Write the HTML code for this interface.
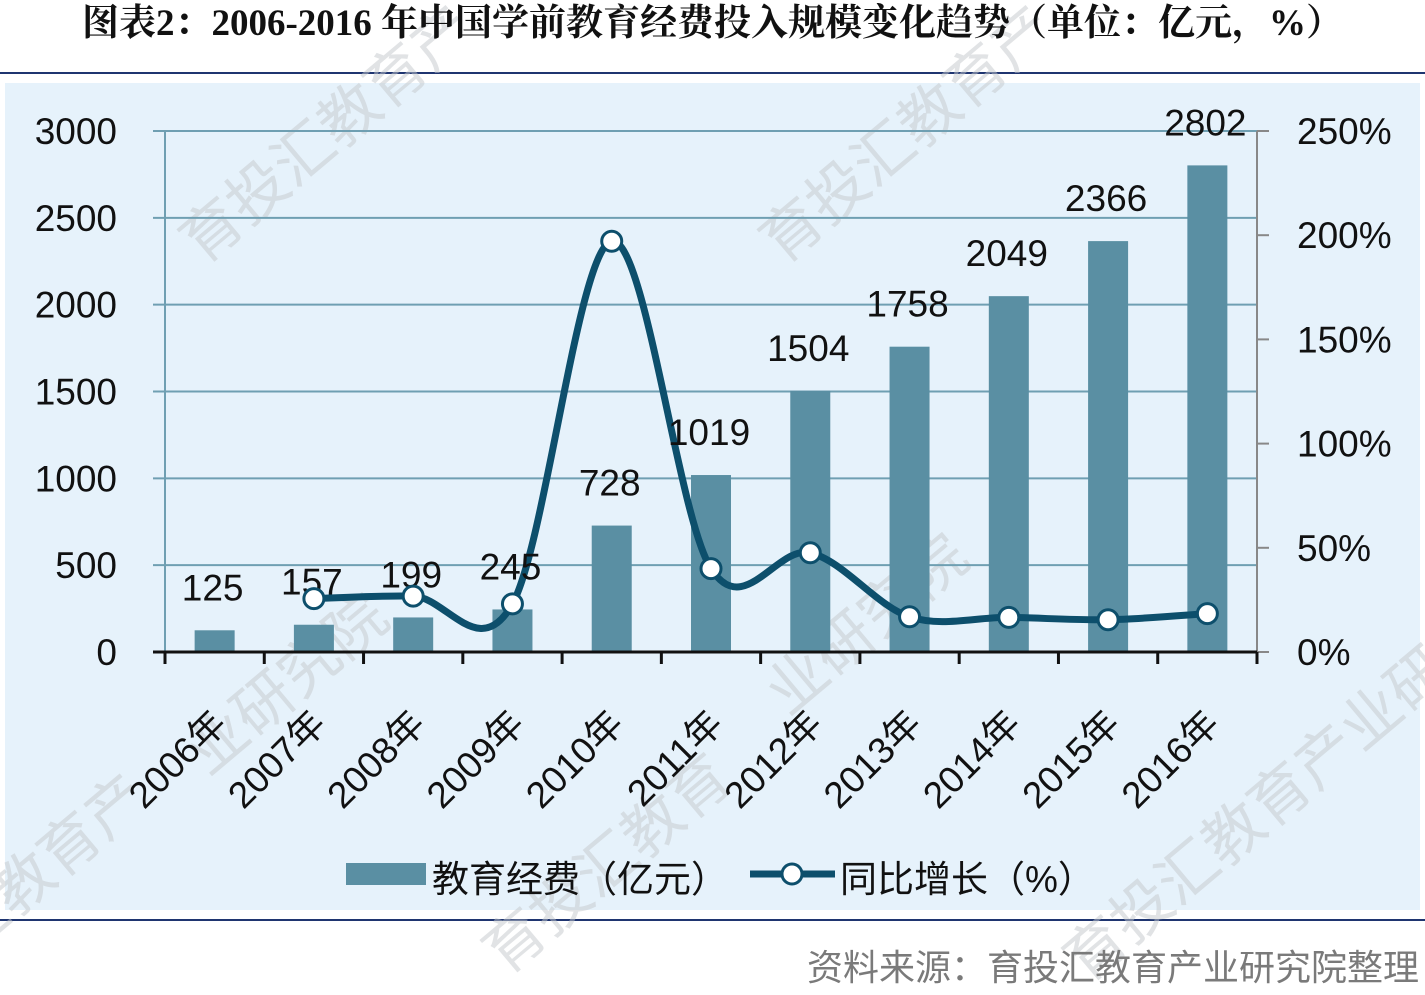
<!DOCTYPE html>
<html><head><meta charset="utf-8">
<style>
html,body{margin:0;width:1425px;height:995px;background:#fff;overflow:hidden;position:relative;font-family:"Liberation Sans","Noto Sans CJK SC",sans-serif;}
#title{position:absolute;left:0;width:1425px;top:2px;line-height:44px;text-align:center;font-family:"Liberation Serif","Noto Serif CJK SC",serif;font-weight:bold;font-size:37px;color:#111;}
#src{position:absolute;right:6px;top:946px;line-height:44px;font-size:36px;color:#7a7a7a}
svg{position:absolute;left:0;top:0}
</style></head><body>
<svg id="chart" width="1425" height="995"></svg>
<div id="title">图表2：2006-2016 年中国学前教育经费投入规模变化趋势（单位：亿元，%）</div>
<div id="src">资料来源：育投汇教育产业研究院整理</div>
<script>
const categories=["2006年","2007年","2008年","2009年","2010年","2011年","2012年","2013年","2014年","2015年","2016年"];
const spending=[125,157,199,245,728,1019,1504,1758,2049,2366,2802];
const growth=[null,25.6,26.8,23.1,197.1,40.0,47.6,16.9,16.6,15.5,18.4];
const leftTicks=[0,500,1000,1500,2000,2500,3000];
const rightTicks=[0,50,100,150,200,250];

const NS="http://www.w3.org/2000/svg";
const svg=document.getElementById('chart');
function mk(t,a,p){const e=document.createElementNS(NS,t);for(const k in a)e.setAttribute(k,a[k]);(p||svg).appendChild(e);return e;}
const X0=165,X1=1257,Y0=652,Y1=131;
const band=(X1-X0)/categories.length;
const xc=i=>X0+band*(i+0.5);
const yL=v=>Y0-(v/3000)*(Y0-Y1);
const yR=v=>Y0-(v/250)*(Y0-Y1);

const hr=mk('line',{x1:0,y1:73,x2:1425,y2:73,stroke:'#1f3570','stroke-width':2});

const bg=mk('rect',{x:5,y:83,width:1415,height:827,fill:'#e6f2fb'});

const br=mk('line',{x1:0,y1:920,x2:1425,y2:920,stroke:'#1f3570','stroke-width':2});


[[340,150,'育投汇教育产'],[920,150,'育投汇教育产'],[300,700,'业研究院'],[880,640,'业研究院'],[60,880,'汇教育产'],[620,880,'育投汇教育'],[1270,830,'育投汇教育产业研']].forEach(p=>{
  const w=mk('text',{x:p[0],y:p[1],transform:`rotate(-40 ${p[0]} ${p[1]})`,'text-anchor':'middle','font-size':60,fill:'#c4c8cb','fill-opacity':0.5});
  w.textContent=p[2];
  
});

leftTicks.forEach(v=>{
  if(v>0){const g=mk('line',{x1:X0-12,y1:yL(v),x2:X1,y2:yL(v),stroke:'#6f9fb2','stroke-width':2});
  }
  const t=mk('text',{x:117,y:yL(v)+13,'text-anchor':'end','font-size':37,fill:'#111'});
  t.textContent=v;
});
const la=mk('line',{x1:X0,y1:Y1,x2:X0,y2:Y0,stroke:'#6f9fb2','stroke-width':2});

const ra=mk('line',{x1:X1,y1:Y1,x2:X1,y2:Y0+8,stroke:'#888','stroke-width':2});

rightTicks.forEach(v=>{
  const tk=mk('line',{x1:X1,y1:yR(v),x2:X1+12,y2:yR(v),stroke:'#888','stroke-width':2});
  
  const t=mk('text',{x:1297,y:yR(v)+13,'font-size':37,fill:'#111'});
  t.textContent=v+'%';
});

spending.forEach((v,i)=>{
  const b=mk('rect',{x:xc(i)-20,y:yL(v),width:40,height:Y0-yL(v),fill:'#5a8fa3'});
  
});
const xa=mk('line',{x1:X0-12,y1:Y0,x2:X1,y2:Y0,stroke:'#111','stroke-width':3});

for(let i=0;i<=categories.length;i++){
  const tk=mk('line',{x1:X0+band*i,y1:Y0,x2:X0+band*i,y2:Y0+12,stroke:'#111','stroke-width':3});
  
}
categories.forEach((c,i)=>{
  const x=xc(i)+14,y=Y0+74;
  const t=mk('text',{x:x,y:y,transform:`rotate(-45 ${x} ${y})`,'text-anchor':'end','font-size':37,fill:'#111'});
  t.textContent=c;
});

const pts=[];growth.forEach((g,i)=>{if(g!==null)pts.push([xc(i),yR(g)]);});
let d='M'+pts[0][0]+','+pts[0][1];
for(let i=0;i<pts.length-1;i++){
  const p0=pts[Math.max(0,i-1)],p1=pts[i],p2=pts[i+1],p3=pts[Math.min(pts.length-1,i+2)];
  const c1=[p1[0]+(p2[0]-p0[0])/6,p1[1]+(p2[1]-p0[1])/6],c2=[p2[0]-(p3[0]-p1[0])/6,p2[1]-(p3[1]-p1[1])/6];
  d+=` C${c1[0]},${c1[1]} ${c2[0]},${c2[1]} ${p2[0]},${p2[1]}`;
}
const ln=mk('path',{d:d,fill:'none',stroke:'#0d4f6c','stroke-width':7});


spending.forEach((v,i)=>{
  const t=mk('text',{x:xc(i)-2,y:yL(v)-30,'text-anchor':'middle','font-size':37,fill:'#111'});
  t.textContent=v;
});
pts.forEach(p=>{
  const c=mk('circle',{cx:p[0],cy:p[1],r:10,fill:'#fff',stroke:'#0d4f6c','stroke-width':3});
  
});

const lg=mk('g',{});
const l1=mk('rect',{x:346,y:863,width:80,height:22,fill:'#5a8fa3'},lg);

const t1=mk('text',{x:432,y:892,'font-size':37,fill:'#111'},lg);t1.textContent='教育经费（亿元）';

const l2=mk('line',{x1:750,y1:874,x2:835,y2:874,stroke:'#0d4f6c','stroke-width':7},lg);

const l3=mk('circle',{cx:792,cy:874,r:10,fill:'#fff',stroke:'#0d4f6c','stroke-width':3},lg);

const t2=mk('text',{x:840,y:892,'font-size':37,fill:'#111'},lg);t2.textContent='同比增长（%）';

</script>
</body></html>
